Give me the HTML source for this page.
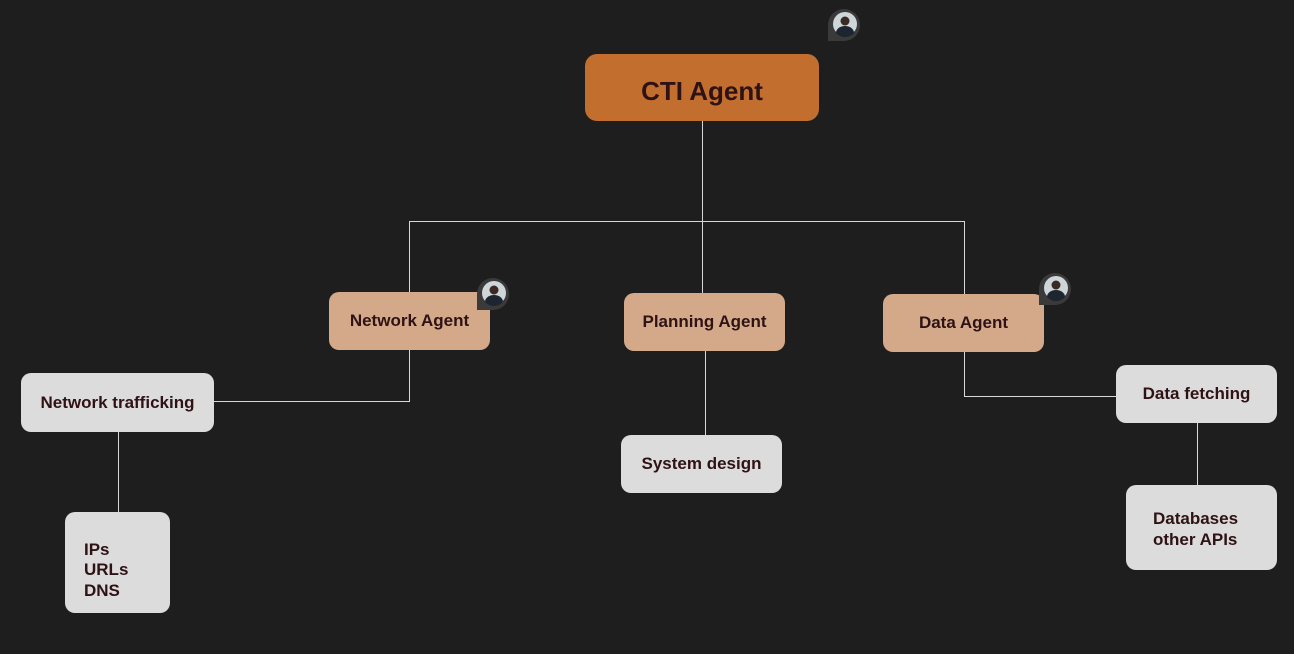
<!DOCTYPE html>
<html><head><meta charset="utf-8"><style>
body{margin:0;width:1294px;height:654px;background:#1e1e1e;position:relative;overflow:hidden;font-family:"Liberation Sans",Arial,sans-serif;}
.b{position:absolute;box-sizing:border-box;display:flex;align-items:center;justify-content:center;font-weight:bold;color:#2e1214;border-radius:10px;}
.a{background:#d4a98a;font-size:17px;}
.g{background:#dcdcdc;font-size:17px;}
.l{position:absolute;background:#d8d8d8;}
.av{position:absolute;width:32px;height:32px;}
</style></head><body>
<div class="l" style="left:702px;top:121px;width:1px;height:100px"></div>
<div class="l" style="left:409px;top:221px;width:556px;height:1px"></div>
<div class="l" style="left:409px;top:221px;width:1px;height:71px"></div>
<div class="l" style="left:702px;top:221px;width:1px;height:72px"></div>
<div class="l" style="left:964px;top:221px;width:1px;height:73px"></div>
<div class="l" style="left:409px;top:350px;width:1px;height:52px"></div>
<div class="l" style="left:214px;top:401px;width:196px;height:1px"></div>
<div class="l" style="left:118px;top:432px;width:1px;height:80px"></div>
<div class="l" style="left:705px;top:351px;width:1px;height:84px"></div>
<div class="l" style="left:964px;top:352px;width:1px;height:44px"></div>
<div class="l" style="left:964px;top:396px;width:152px;height:1px"></div>
<div class="l" style="left:1197px;top:423px;width:1px;height:62px"></div>

<div class="b" style="left:585px;top:54px;width:234px;height:67px;background:#c26e2f;font-size:26px;border-radius:12px;padding-top:8px">CTI Agent</div>
<div class="b a" style="left:329px;top:292px;width:161px;height:58px">Network Agent</div>
<div class="b a" style="left:624px;top:293px;width:161px;height:58px">Planning Agent</div>
<div class="b a" style="left:883px;top:294px;width:161px;height:58px">Data Agent</div>
<div class="b g" style="left:21px;top:373px;width:193px;height:59px">Network trafficking</div>
<div class="b g" style="left:621px;top:435px;width:161px;height:58px">System design</div>
<div class="b g" style="left:1116px;top:365px;width:161px;height:58px">Data fetching</div>
<div class="b g" style="left:65px;top:512px;width:105px;height:101px;justify-content:flex-start;padding-left:19px;padding-top:16px;line-height:20.5px">IPs<br>URLs<br>DNS</div>
<div class="b g" style="left:1126px;top:485px;width:151px;height:85px;justify-content:flex-start;padding-left:27px;padding-top:4px;line-height:20.5px">Databases<br>other APIs</div>

<svg class="av" style="left:828px;top:9px" viewBox="0 0 32 32"><path d="M0 32V16A16 16 0 1 1 16 32Z" fill="#3a3a3a"/><circle cx="17" cy="15" r="12" fill="#cfd6da"/><circle cx="17" cy="12" r="4.5" fill="#3a2a22"/><path d="M8 24a9 7 0 0 1 18 0a12 12 0 0 1-18 0Z" fill="#1d2530"/></svg>
<svg class="av" style="left:477px;top:278px" viewBox="0 0 32 32"><path d="M0 32V16A16 16 0 1 1 16 32Z" fill="#3a3a3a"/><circle cx="17" cy="15" r="12" fill="#cfd6da"/><circle cx="17" cy="12" r="4.5" fill="#3a2a22"/><path d="M8 24a9 7 0 0 1 18 0a12 12 0 0 1-18 0Z" fill="#1d2530"/></svg>
<svg class="av" style="left:1039px;top:273px" viewBox="0 0 32 32"><path d="M0 32V16A16 16 0 1 1 16 32Z" fill="#3a3a3a"/><circle cx="17" cy="15" r="12" fill="#cfd6da"/><circle cx="17" cy="12" r="4.5" fill="#3a2a22"/><path d="M8 24a9 7 0 0 1 18 0a12 12 0 0 1-18 0Z" fill="#1d2530"/></svg>
</body></html>
